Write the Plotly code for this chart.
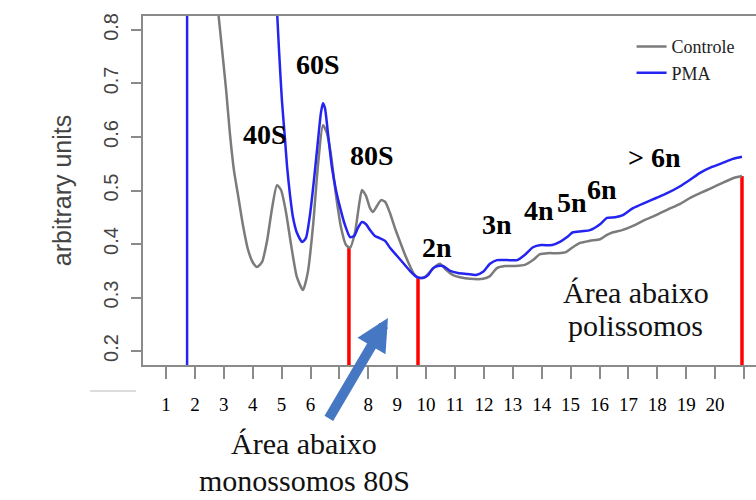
import numpy as np
import plotly.graph_objects as go

# ---------------- data ----------------
x_ctrl = [2.80, 2.94, 3.08, 3.21, 3.35, 3.49, 3.66, 3.84, 4.01, 4.15, 4.32, 4.49, 4.67, 4.84,
          4.98, 5.15, 5.33, 5.53, 5.74, 5.91, 6.09, 6.26, 6.43, 6.57, 6.71, 6.88, 7.06, 7.23,
          7.37, 7.54, 7.68, 7.78, 7.92, 8.06, 8.16, 8.30, 8.44, 8.58, 8.75, 8.92, 9.10, 9.27,
          9.44, 9.58, 9.72, 9.93, 10.13, 10.34, 10.48, 10.69, 10.93, 11.17, 11.52, 11.97, 12.21,
          12.45, 12.73, 13.08, 13.42, 13.70, 13.94, 14.22, 14.56, 14.84, 15.05, 15.33, 15.67,
          16.02, 16.26, 16.47, 16.78, 17.16, 17.57, 17.96, 18.34, 18.79, 19.13, 19.48, 19.89,
          20.24, 20.62, 20.93]
y_ctrl = [0.837, 0.763, 0.688, 0.607, 0.538, 0.492, 0.436, 0.389, 0.365, 0.357, 0.366, 0.404,
          0.467, 0.510, 0.501, 0.460, 0.398, 0.338, 0.314, 0.348, 0.436, 0.548, 0.622, 0.607,
          0.566, 0.492, 0.430, 0.398, 0.393, 0.422, 0.473, 0.501, 0.490, 0.467, 0.460, 0.471,
          0.482, 0.479, 0.458, 0.430, 0.404, 0.380, 0.359, 0.344, 0.337, 0.337, 0.348, 0.359,
          0.363, 0.352, 0.342, 0.338, 0.335, 0.335, 0.340, 0.355, 0.359, 0.359, 0.361, 0.370,
          0.381, 0.383, 0.383, 0.385, 0.393, 0.402, 0.406, 0.409, 0.417, 0.422, 0.426, 0.434,
          0.445, 0.454, 0.464, 0.475, 0.486, 0.495, 0.505, 0.514, 0.523, 0.527]

x_pma = [4.84, 4.91, 5.01, 5.12, 5.19, 5.29, 5.39, 5.53, 5.71, 5.84, 5.98, 6.12, 6.26, 6.36,
         6.43, 6.50, 6.61, 6.74, 6.88, 7.02, 7.19, 7.37, 7.51, 7.64, 7.78, 7.92, 8.06, 8.23,
         8.40, 8.58, 8.75, 8.99, 9.20, 9.44, 9.69, 9.89, 10.07, 10.24, 10.41, 10.58, 10.83,
         11.10, 11.42, 11.73, 11.97, 12.21, 12.45, 12.80, 13.15, 13.42, 13.70, 13.98, 14.36,
         14.63, 14.88, 15.08, 15.39, 15.67, 16.02, 16.26, 16.54, 16.81, 17.16, 17.57, 17.96,
         18.34, 18.79, 19.13, 19.48, 19.89, 20.24, 20.62, 20.93]
y_pma = [0.837, 0.763, 0.669, 0.594, 0.544, 0.492, 0.451, 0.421, 0.404, 0.411, 0.454, 0.520,
         0.594, 0.645, 0.663, 0.654, 0.604, 0.544, 0.501, 0.469, 0.436, 0.413, 0.415, 0.430,
         0.441, 0.437, 0.426, 0.415, 0.411, 0.406, 0.393, 0.378, 0.365, 0.350, 0.338, 0.337,
         0.342, 0.355, 0.359, 0.359, 0.350, 0.346, 0.344, 0.342, 0.348, 0.363, 0.370, 0.370,
         0.370, 0.380, 0.394, 0.398, 0.398, 0.404, 0.413, 0.422, 0.424, 0.426, 0.437, 0.449,
         0.450, 0.454, 0.467, 0.477, 0.486, 0.495, 0.508, 0.520, 0.533, 0.544, 0.551, 0.559,
         0.563]

pma_spike_x = 1.73                      # vertical blue line near fraction 2
area_bounds = [7.33, 9.72, 20.93]        # red boundary lines

x_tick_vals = list(range(1, 22))
x_tick_text = [str(i) for i in range(1, 21)] + [""]
y_tick_vals = [0.2, 0.3, 0.4, 0.5, 0.6, 0.7, 0.8]
y_tick_text = ["0.2", "0.3", "0.4", "0.5", "0.6", "0.7", "0.8"]

peak_labels = ["40S", "60S", "80S", "2n", "3n", "4n", "5n", "6n", "> 6n"]
peak_x = [4.43, 6.26, 8.13, 10.38, 12.45, 13.91, 15.05, 16.09, 17.89]
peak_y = [0.604, 0.736, 0.566, 0.393, 0.436, 0.462, 0.477, 0.501, 0.561]

x_range = [0.204, 21.415]
y_range = [0.174, 0.826]

# ---------------- styles ----------------
GREY = "#7b7b7b"
BLUE = "#2424f0"
RED = "#ff0000"
AXIS = "#8a8a8a"
SERIF = "Liberation Serif"
SANS = "Liberation Sans"

fig = go.Figure()

# red boundary lines (bottom up to the Controle curve)
rx, ry = [], []
for b in area_bounds:
    top = float(np.interp(b, x_ctrl, y_ctrl))
    rx += [b, b, None]
    ry += [y_range[0], top, None]
fig.add_trace(go.Scatter(x=rx, y=ry, mode="lines", line=dict(color=RED, width=3.5),
                         showlegend=False, hoverinfo="skip"))

fig.add_trace(go.Scatter(x=x_ctrl, y=y_ctrl, mode="lines", name="Controle",
                         line=dict(color=GREY, width=2.5, shape="spline", smoothing=0.6)))
fig.add_trace(go.Scatter(x=x_pma, y=y_pma, mode="lines", name="PMA",
                         line=dict(color=BLUE, width=2.5, shape="spline", smoothing=0.6)))
fig.add_trace(go.Scatter(x=[pma_spike_x, pma_spike_x], y=y_range, mode="lines",
                         line=dict(color=BLUE, width=2.5), showlegend=False,
                         hoverinfo="skip"))

annotations = []
for t, px_, py_ in zip(peak_labels, peak_x, peak_y):
    annotations.append(dict(x=px_, y=py_, text="<b>%s</b>" % t, showarrow=False,
                            font=dict(family=SERIF, size=28, color="black"),
                            xanchor="center", yanchor="middle"))

annotations.append(dict(x=17.26, y=0.310, text="Área abaixo", showarrow=False,
                        font=dict(family=SERIF, size=30, color="#111"),
                        xanchor="center", yanchor="middle"))
annotations.append(dict(x=17.26, y=0.247, text="polissomos", showarrow=False,
                        font=dict(family=SERIF, size=30, color="#111"),
                        xanchor="center", yanchor="middle"))
annotations.append(dict(x=5.78, xref="x", y=-0.226, yref="paper", text="Área abaixo",
                        showarrow=False, font=dict(family=SERIF, size=30, color="#111"),
                        xanchor="center", yanchor="middle"))
annotations.append(dict(x=5.78, xref="x", y=-0.330, yref="paper", text="monossomos 80S",
                        showarrow=False, font=dict(family=SERIF, size=30, color="#111"),
                        xanchor="center", yanchor="middle"))
# blue arrow pointing into the monosome area
annotations.append(dict(x=8.68, y=0.262, text="", showarrow=True, ax=-60, ay=102,
                        arrowcolor="#4677c2", arrowwidth=10, arrowhead=2, arrowsize=0.65,
                        standoff=0))

fig.update_layout(
    width=756, height=500,
    margin=dict(l=143, r=0, t=16, b=135),
    paper_bgcolor="white", plot_bgcolor="white",
    annotations=annotations,
    shapes=[dict(type="line", xref="paper", yref="paper", x0=-0.0865, x1=-0.0114,
                 y0=-0.0745, y1=-0.0745, line=dict(color="#d0d0d0", width=1.5))],
    legend=dict(x=0.797, y=0.965, xanchor="left", yanchor="top",
                font=dict(family=SERIF, size=18, color="#222"),
                bgcolor="rgba(0,0,0,0)", tracegroupgap=0),
    showlegend=True,
)

fig.update_xaxes(range=x_range, showgrid=False, zeroline=False,
                 showline=True, linecolor=AXIS, linewidth=1.5, mirror=True,
                 ticks="outside", ticklen=12, tickwidth=1.5, tickcolor=AXIS,
                 tickvals=x_tick_vals, ticktext=x_tick_text, ticklabelstandoff=9,
                 tickfont=dict(family=SERIF, size=19, color="black"))
fig.update_yaxes(range=y_range, showgrid=False, zeroline=False,
                 showline=True, linecolor=AXIS, linewidth=1.5, mirror=False,
                 ticks="outside", ticklen=10, tickwidth=1.5, tickcolor=AXIS,
                 tickvals=y_tick_vals, ticktext=y_tick_text, tickangle=-90,
                 ticklabelstandoff=5,
                 tickfont=dict(family=SANS, size=20, color="#444"),
                 title=dict(text="arbitrary units", standoff=22,
                            font=dict(family=SANS, size=25, color="#444")))

fig.write_html("out.html")
